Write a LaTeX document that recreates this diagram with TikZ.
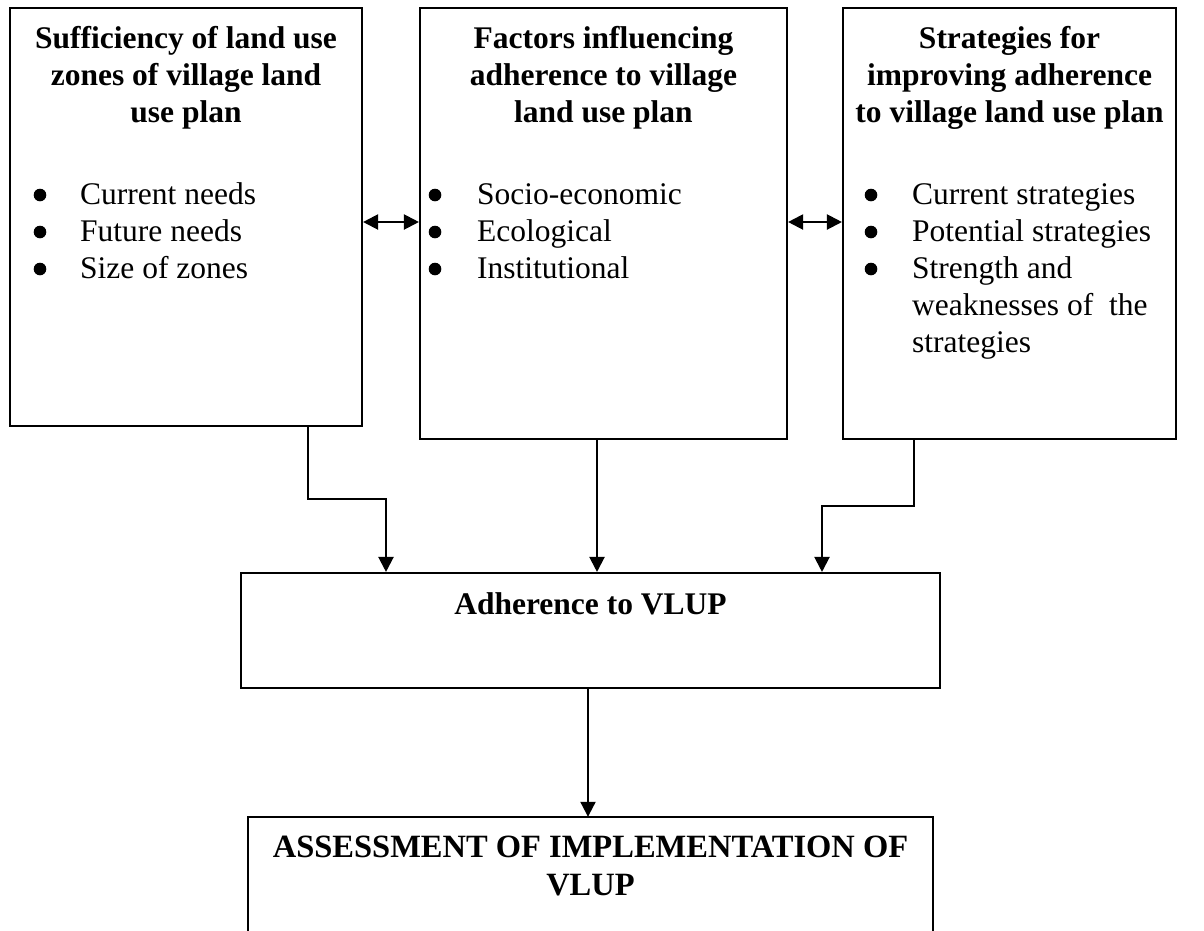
\documentclass[tikz,border=0pt]{standalone}
\usepackage{fontspec}
\setmainfont{Liberation Serif}
\usetikzlibrary{arrows.meta}
\newcommand{\tfont}{\fontsize{31.5}{37}\selectfont}
\newcommand{\bfont}{\bfseries\fontsize{31.5}{37}\selectfont}
\begin{document}
\begin{tikzpicture}[x=1pt,y=-1pt,
  box/.style={draw, line width=2.1pt, inner sep=0pt},
  conn/.style={line width=2.1pt, -{Triangle[length=15pt,width=15pt]}},
  dconn/.style={line width=2.1pt, {Triangle[length=15pt,width=15pt]}-{Triangle[length=15pt,width=15pt]}},
  title/.style={anchor=base, inner sep=0pt, font=\bfont},
  items/.style={anchor=base west, inner sep=0pt, font=\tfont},
  dot/.style={fill=black}]
\useasboundingbox[fill=white] (0,0) rectangle (1204,930);

% boxes
\node[box, minimum width=352pt, minimum height=418pt] (b1) at (186,217) {};
\node[box, minimum width=367pt, minimum height=431pt] (b2) at (603.5,223.5) {};
\node[box, minimum width=333pt, minimum height=431pt] (b3) at (1009.5,223.5) {};
\node[box, minimum width=699pt, minimum height=115pt] (mid) at (590.5,630.5) {};
\node[inner sep=0pt, minimum width=685pt, minimum height=130pt] (bot) at (590.5,882) {};
\draw[line width=2.1pt] (bot.south west) -- (bot.north west) -- (bot.north east) -- (bot.south east);

% titles
\node[title] (t1) at (186,48) {\begin{tabular}[t]{@{}c@{}}Sufficiency of land use\\zones of village land\\use plan\end{tabular}};
\node[title] (t2) at (603.5,48) {\begin{tabular}[t]{@{}c@{}}Factors influencing\\adherence to village\\land use plan\end{tabular}};
\node[title] (t3) at (1009.5,48) {\begin{tabular}[t]{@{}c@{}}Strategies for\\improving adherence\\to village land use plan\end{tabular}};

% bullet lists
\node[items] (l1) at (80,204) {\begin{tabular}[t]{@{}l@{}}Current needs\\Future needs\\Size of zones\end{tabular}};
\node[items] (l2) at (477,204) {\begin{tabular}[t]{@{}l@{}}Socio-economic\\Ecological\\Institutional\end{tabular}};
\node[items] (l3) at (912,204) {\begin{tabular}[t]{@{}l@{}}Current strategies\\Potential strategies\\Strength and\\weaknesses of~ the\\strategies\end{tabular}};
\foreach \bx in {40,435,871}
  \foreach \by in {195,232,269}
    \fill[dot] (\bx,\by) circle[radius=6.3pt];

% lower texts
\node[title] (tm) at (590.5,614) {Adherence to VLUP};
\node[title, font=\bfseries\fontsize{32.5}{38}\selectfont] (tb) at (590.5,857) {\begin{tabular}[t]{@{}c@{}}ASSESSMENT OF IMPLEMENTATION OF\\VLUP\end{tabular}};

% connectors
\draw[dconn] (b1.east |- 0,222) -- (b2.west |- 0,222);
\draw[dconn] (b2.east |- 0,222) -- (b3.west |- 0,222);
\draw[conn] (308,0 |- b1.south) -- (308,499) -| (386,0 |- mid.north);
\draw[conn] (597,0 |- b2.south) -- (597,0 |- mid.north);
\draw[conn] (914,0 |- b3.south) -- (914,506) -| (822,0 |- mid.north);
\draw[conn] (588,0 |- mid.south) -- (588,0 |- bot.north);
\end{tikzpicture}
\end{document}
